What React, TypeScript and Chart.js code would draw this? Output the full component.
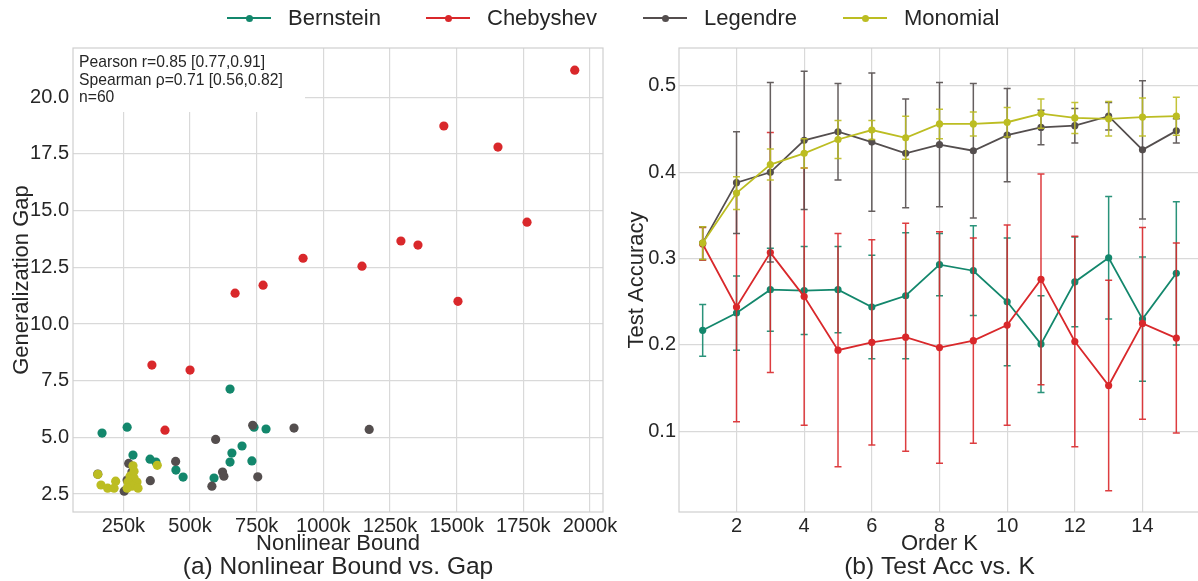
import React, { useEffect, useRef } from 'react';
import { Chart, registerables } from 'chart.js';

Chart.register(...registerables);

const FONT = '"Liberation Sans", Arial, Helvetica, sans-serif';
const TEXT = '#262626';
const GRID = '#d9d9d9';
const FRAME = '#cfcfcf';

const SERIES = ['Bernstein', 'Chebyshev', 'Legendre', 'Monomial'];
const COLORS = ['#13876c', '#d9282b', '#544e4e', '#bcbd22'];

// ---- Panel (a): Nonlinear bound vs generalization gap ----
const bernsteinBound = [170000, 264000, 740000, 785000, 286000, 350000, 372000, 447000, 474000, 695000, 657000, 650000, 732000, 590000, 650000];
const bernsteinGap = [5.19, 5.45, 5.45, 5.37, 4.22, 4.04, 3.91, 3.56, 3.25, 4.62, 4.31, 3.91, 3.96, 3.21, 7.13];
const chebyshevBound = [1943000, 1452000, 1655000, 1764000, 1291000, 1355000, 924000, 1145000, 1505000, 774000, 669000, 357000, 500000, 406000];
const chebyshevGap = [21.19, 18.73, 17.8, 14.49, 13.66, 13.48, 12.9, 12.55, 11.0, 11.71, 11.36, 8.19, 7.97, 5.32];
const legendreBound = [735000, 596000, 270000, 446000, 351000, 253000, 622000, 627000, 582000, 754000, 890000, 1172000, 154000, 282000, 264000];
const legendreGap = [5.53, 4.91, 3.85, 3.94, 3.09, 2.63, 3.47, 3.29, 2.85, 3.26, 5.41, 5.35, 3.38, 3.47, 3.12];
const monomialBound = [154000, 166000, 191000, 221000, 215000, 286000, 377000, 275000, 290000, 267000, 301000, 282000, 305000, 264000, 290000];
const monomialGap = [3.37, 2.9, 2.76, 3.07, 2.76, 3.75, 3.77, 3.29, 3.21, 3.03, 3.03, 2.85, 2.76, 2.76, 3.51];

const boundTicks = [250000, 500000, 750000, 1000000, 1250000, 1500000, 1750000, 2000000];
const gapTicks = [2.5, 5.0, 7.5, 10.0, 12.5, 15.0, 17.5, 20.0];
const statsLines = ['Pearson r=0.85 [0.77,0.91]', 'Spearman ρ=0.71 [0.56,0.82]', 'n=60'];

// ---- Panel (b): Test accuracy vs order K ----
const orders = [1, 2, 3, 4, 5, 6, 7, 8, 9, 10, 11, 12, 13, 14, 15];
const bernsteinAcc = [0.217, 0.237, 0.264, 0.263, 0.264, 0.244, 0.257, 0.293, 0.286, 0.25, 0.201, 0.273, 0.301, 0.23, 0.283];
const bernsteinStd = [0.03, 0.043, 0.048, 0.051, 0.05, 0.06, 0.073, 0.036, 0.052, 0.074, 0.056, 0.052, 0.071, 0.072, 0.083];
const chebyshevAcc = [0.317, 0.244, 0.307, 0.256, 0.194, 0.203, 0.209, 0.197, 0.205, 0.223, 0.276, 0.204, 0.153, 0.225, 0.208];
const chebyshevStd = [0.019, 0.133, 0.139, 0.149, 0.135, 0.119, 0.132, 0.134, 0.119, 0.116, 0.122, 0.122, 0.122, 0.111, 0.11];
const legendreAcc = [0.318, 0.388, 0.4, 0.437, 0.447, 0.435, 0.422, 0.432, 0.425, 0.443, 0.452, 0.454, 0.465, 0.426, 0.448];
const legendreStd = [0.019, 0.059, 0.104, 0.08, 0.056, 0.08, 0.063, 0.072, 0.078, 0.054, 0.02, 0.02, 0.016, 0.08, 0.014];
const monomialAcc = [0.318, 0.376, 0.409, 0.422, 0.438, 0.449, 0.44, 0.456, 0.456, 0.458, 0.468, 0.463, 0.462, 0.464, 0.465];
const monomialStd = [0.019, 0.019, 0.018, 0.017, 0.022, 0.011, 0.025, 0.017, 0.014, 0.017, 0.017, 0.018, 0.02, 0.022, 0.022];

const orderTicks = [2, 4, 6, 8, 10, 12, 14];
const accTicks = [0.1, 0.2, 0.3, 0.4, 0.5];

const bounds = [bernsteinBound, chebyshevBound, legendreBound, monomialBound];
const gaps = [bernsteinGap, chebyshevGap, legendreGap, monomialGap];
const accs = [bernsteinAcc, chebyshevAcc, legendreAcc, monomialAcc];
const stds = [bernsteinStd, chebyshevStd, legendreStd, monomialStd];

const framePlugin = {
  id: 'frame',
  beforeDatasetsDraw(chart: any, _args: any, opts: any) {
    const { ctx, chartArea: a } = chart;
    ctx.save();
    if (opts && opts.stats) {
      ctx.fillStyle = '#ffffff';
      ctx.fillRect(a.left, a.top, 232, 64);
      ctx.fillStyle = TEXT;
      ctx.font = `15.7px ${FONT}`;
      ctx.textBaseline = 'middle';
      ctx.textAlign = 'left';
      opts.stats.forEach((t: string, i: number) => ctx.fillText(t, a.left + 6, a.top + 15 + i * 17.5));
    }
    ctx.strokeStyle = FRAME;
    ctx.lineWidth = 1.2;
    ctx.strokeRect(a.left, a.top, a.right - a.left, a.bottom - a.top);
    ctx.restore();
  },
  afterDraw(chart: any, _args: any, opts: any) {
    if (!opts || !opts.caption) return;
    const { ctx, chartArea: a } = chart;
    ctx.save();
    ctx.fillStyle = TEXT;
    ctx.font = `24.5px ${FONT}`;
    ctx.textAlign = 'center';
    ctx.textBaseline = 'middle';
    ctx.fillText(opts.caption, (a.left + a.right) / 2, 567);
    ctx.restore();
  },
};

const errorBarPlugin = {
  id: 'errorBars',
  beforeDatasetDraw(chart: any, args: any) {
    const ds = chart.data.datasets[args.index];
    if (!ds.errors) return;
    const xs = chart.scales.x;
    const ys = chart.scales.y;
    const ctx = chart.ctx;
    ctx.save();
    ctx.strokeStyle = ds.borderColor;
    ctx.globalAlpha = 0.9;
    ctx.lineWidth = 1.5;
    ds.data.forEach((p: any, i: number) => {
      const x = xs.getPixelForValue(p.x);
      const y1 = ys.getPixelForValue(p.y - ds.errors[i]);
      const y2 = ys.getPixelForValue(p.y + ds.errors[i]);
      ctx.beginPath();
      ctx.moveTo(x, y1);
      ctx.lineTo(x, y2);
      ctx.moveTo(x - 3.5, y1);
      ctx.lineTo(x + 3.5, y1);
      ctx.moveTo(x - 3.5, y2);
      ctx.lineTo(x + 3.5, y2);
      ctx.stroke();
    });
    ctx.restore();
  },
};

const tickFont = { family: FONT, size: 20 };
const titleFont = { family: FONT, size: 22 };

function leftConfig(): any {
  return {
    type: 'scatter',
    data: {
      datasets: SERIES.map((name, i) => ({
        label: name,
        data: bounds[i].map((x, j) => ({ x, y: gaps[i][j] })),
        backgroundColor: COLORS[i],
        borderColor: COLORS[i],
        pointRadius: 4.6,
        pointBorderWidth: 0,
        order: 4 - i,
      })),
    },
    options: {
      animation: false,
      responsive: false,
      events: [],
      layout: { padding: { left: 0, right: 42, top: 48, bottom: 24 } },
      plugins: {
        legend: { display: false },
        tooltip: { enabled: false },
        frame: { stats: statsLines, caption: '(a) Nonlinear Bound vs. Gap' },
      },
      scales: {
        x: {
          type: 'linear',
          min: 61000,
          max: 2049000,
          afterBuildTicks: (s: any) => { s.ticks = boundTicks.map((v) => ({ value: v })); },
          afterFit: (s: any) => { s.height = 45; },
          ticks: { callback: (v: any) => `${Math.round(v / 1000)}k`, font: tickFont, color: TEXT, padding: 2, maxRotation: 0, autoSkip: false },
          grid: { color: GRID, lineWidth: 1.2, drawTicks: false },
          border: { display: false },
          title: { display: true, text: 'Nonlinear Bound', font: titleFont, color: TEXT, padding: 0 },
        },
        y: {
          type: 'linear',
          min: 1.71,
          max: 22.17,
          afterBuildTicks: (s: any) => { s.ticks = gapTicks.map((v) => ({ value: v })); },
          afterFit: (s: any) => { s.width = 73; },
          ticks: { callback: (v: any) => Number(v).toFixed(1), font: tickFont, color: TEXT, padding: 4 },
          grid: { color: GRID, lineWidth: 1.2, drawTicks: false },
          border: { display: false },
          title: { display: true, text: 'Generalization Gap', font: titleFont, color: TEXT, padding: { top: 9, bottom: 0 } },
        },
      },
    },
    plugins: [framePlugin],
  };
}

function rightConfig(): any {
  return {
    type: 'line',
    data: {
      datasets: SERIES.map((name, i) => ({
        label: name,
        data: orders.map((k, j) => ({ x: k, y: accs[i][j] })),
        errors: stds[i],
        borderColor: COLORS[i],
        backgroundColor: COLORS[i],
        borderWidth: 1.8,
        pointRadius: 3.6,
        pointBorderWidth: 0,
        tension: 0,
        order: 4 - i,
      })),
    },
    options: {
      animation: false,
      responsive: false,
      events: [],
      layout: { padding: { left: 0, right: 0, top: 48, bottom: 24 } },
      plugins: {
        legend: { display: false },
        tooltip: { enabled: false },
        frame: { caption: '(b) Test Acc vs. K' },
      },
      scales: {
        x: {
          type: 'linear',
          min: 0.3,
          max: 15.7,
          afterBuildTicks: (s: any) => { s.ticks = orderTicks.map((v) => ({ value: v })); },
          afterFit: (s: any) => { s.height = 45; },
          ticks: { font: tickFont, color: TEXT, padding: 2, maxRotation: 0, autoSkip: false },
          grid: { color: GRID, lineWidth: 1.2, drawTicks: false },
          border: { display: false },
          title: { display: true, text: 'Order K', font: titleFont, color: TEXT, padding: 0 },
        },
        y: {
          type: 'linear',
          min: 0.0065,
          max: 0.544,
          afterBuildTicks: (s: any) => { s.ticks = accTicks.map((v) => ({ value: v })); },
          afterFit: (s: any) => { s.width = 67; },
          ticks: { callback: (v: any) => Number(v).toFixed(1), font: tickFont, color: TEXT, padding: 3 },
          grid: { color: GRID, lineWidth: 1.2, drawTicks: false },
          border: { display: false },
          title: { display: true, text: 'Test Accuracy', font: titleFont, color: TEXT, padding: { top: 12, bottom: 0 } },
        },
      },
    },
    plugins: [framePlugin, errorBarPlugin],
  };
}

const legendPos = [227, 426, 643, 843];

export default function App() {
  const leftRef = useRef<HTMLCanvasElement>(null);
  const rightRef = useRef<HTMLCanvasElement>(null);

  useEffect(() => {
    const a = new Chart(leftRef.current as HTMLCanvasElement, leftConfig());
    const b = new Chart(rightRef.current as HTMLCanvasElement, rightConfig());
    return () => {
      a.destroy();
      b.destroy();
    };
  }, []);

  return (
    <div style={{ position: 'fixed', left: 0, top: 0, width: 1198, height: 581, overflow: 'hidden', background: '#fff', fontFamily: FONT }}>
      <canvas ref={leftRef} width={645} height={581} style={{ position: 'absolute', left: 0, top: 0, width: 645, height: 581 }} />
      <canvas ref={rightRef} width={592} height={581} style={{ position: 'absolute', left: 612, top: 0, width: 592, height: 581 }} />
      {SERIES.map((name, i) => (
        <div key={name} style={{ position: 'absolute', left: legendPos[i], top: 4, height: 28, display: 'flex', alignItems: 'center' }}>
          <div style={{ position: 'relative', width: 44, height: 2, background: COLORS[i] }}>
            <div style={{ position: 'absolute', left: 19, top: -2.5, width: 7, height: 7, borderRadius: '50%', background: COLORS[i] }} />
          </div>
          <span style={{ marginLeft: 17, fontSize: 22, color: TEXT, lineHeight: '28px', whiteSpace: 'nowrap' }}>{name}</span>
        </div>
      ))}
    </div>
  );
}
